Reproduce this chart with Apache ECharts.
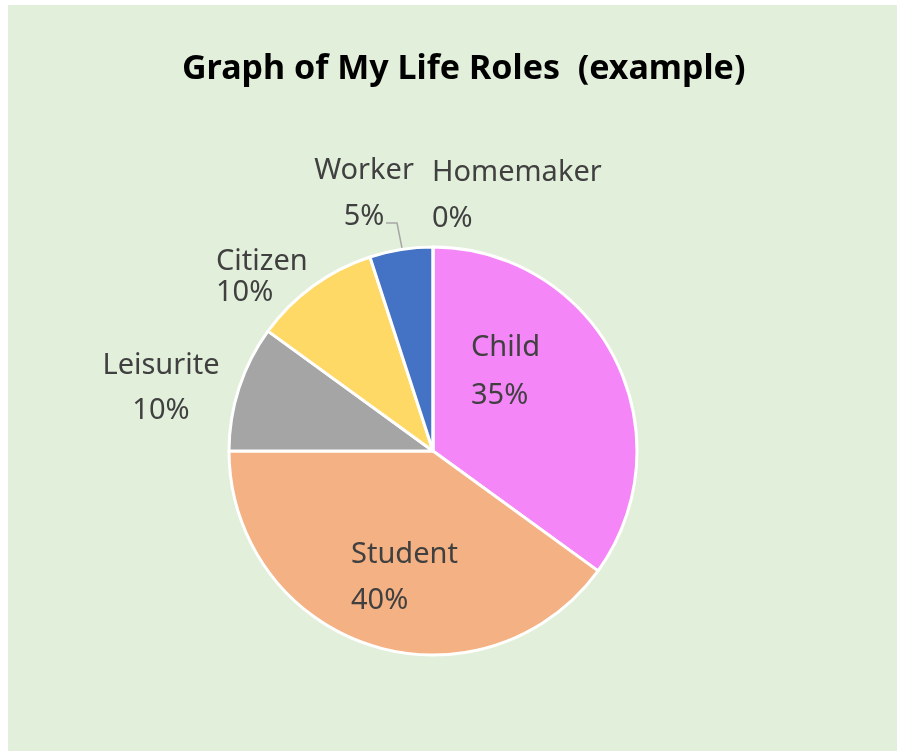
<!DOCTYPE html>
<html lang="en">
<head>
<meta charset="UTF-8">
<title>Graph of My Life Roles</title>
<style>
    html, body { margin: 0; padding: 0; background: #fff; }
    #bg { position: absolute; left: 8px; top: 5px; width: 889px; height: 746px; background: #E2EFDA; }
    #main { position: absolute; left: 0; top: 0; width: 897px; height: 751px; }
</style>
</head>
<body>
<div id="bg"></div>
<div id="main"></div>
<script src="https://cdn.jsdelivr.net/npm/echarts@6/dist/echarts.min.js"></script>
<script>
// data
var roles = ['Child', 'Student', 'Leisurite', 'Citizen', 'Worker', 'Homemaker'];
var shares = [35, 40, 10, 10, 5, 0];
var colors = ['#F586F8', '#F4B183', '#A5A5A5', '#FFD966', '#4472C4', '#70AD47'];

// where each label sits (label block anchor), same order as roles
var labelPos = [
    {x: 471, y: 372, align: 'left',   lh: 48},
    {x: 351, y: 578, align: 'left',   lh: 46},
    {x: 161, y: 388, align: 'center', lh: 45},
    {x: 216, y: 277, align: 'left',   lh: 31},
    {x: 364, y: 194, align: 'center', lh: 46},
    {x: 432, y: 196, align: 'left',   lh: 46}
];

var pieData = roles.map(function (name, i) {
    return {
        name: name,
        value: shares[i],
        itemStyle: {color: colors[i]},
        label: {lineHeight: labelPos[i].lh},
        labelLine: {show: name === 'Worker'}
    };
});

var myChart = echarts.init(document.getElementById('main'));

var option = {
    backgroundColor: 'transparent',
    title: {
        text: 'Graph of My Life Roles  (example)',
        left: 182,
        top: 52,
        padding: 0,
        textStyle: {
            fontFamily: 'Noto Sans',
            fontSize: 34,
            fontWeight: 'bold',
            color: '#000'
        }
    },
    series: [
        {
            type: 'pie',
            center: [433, 451],
            radius: 204,
            startAngle: 90,
            clockwise: true,
            avoidLabelOverlap: false,
            animation: false,
            data: pieData,
            itemStyle: {borderColor: '#fff', borderWidth: 3},
            label: {
                show: true,
                position: 'outside',
                fontFamily: 'Noto Sans',
                fontSize: 29,
                color: '#404040',
                formatter: function (p) {
                    return p.name + '\n' + Math.round(p.percent) + '%';
                }
            },
            labelLine: {
                lineStyle: {color: '#A6A6A6', width: 1.5}
            },
            labelLayout: function (params) {
                var pos = labelPos[params.dataIndex];
                var res = {x: pos.x, y: pos.y, align: pos.align, verticalAlign: 'middle'};
                if (roles[params.dataIndex] === 'Worker') {
                    res.labelLinePoints = [[402, 248], [397, 223], [386, 223]];
                }
                return res;
            }
        }
    ]
};

myChart.setOption(option);
</script>
</body>
</html>
